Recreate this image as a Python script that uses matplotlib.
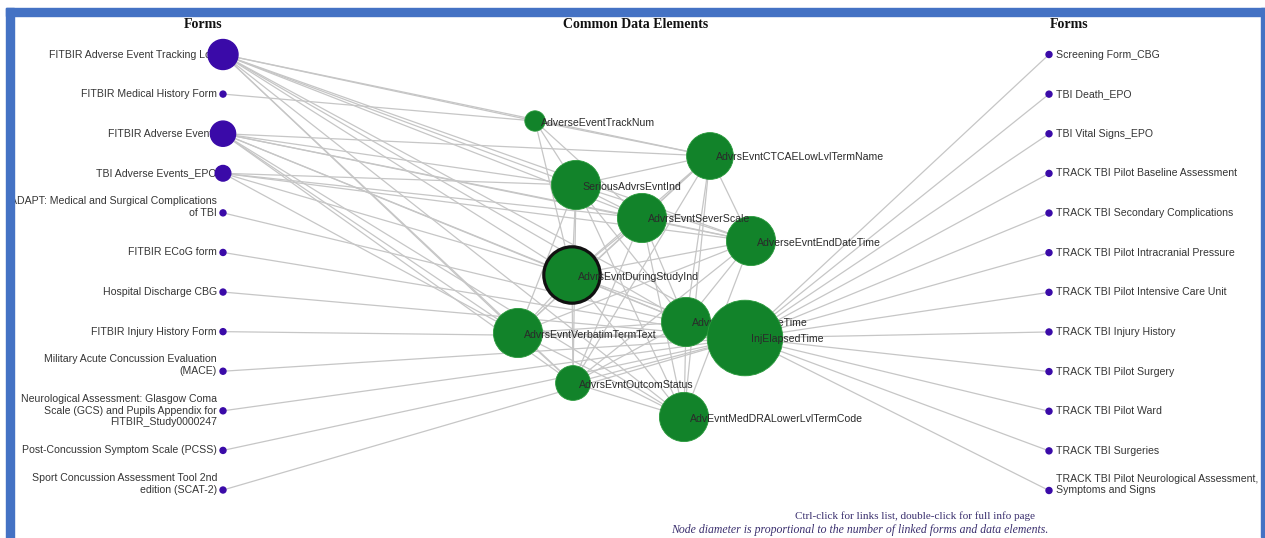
import numpy as np
import matplotlib
matplotlib.use('Agg')
from matplotlib import pyplot as plt
from matplotlib.patches import Circle, Rectangle

# forms on the left, with the number of links each one has
left_forms = [
    'FITBIR Adverse Event Tracking Log',
    'FITBIR Medical History Form',
    'FITBIR Adverse Events',
    'TBI Adverse Events_EPO',
    'ADAPT: Medical and Surgical Complications\nof TBI',
    'FITBIR ECoG form',
    'Hospital Discharge CBG',
    'FITBIR Injury History Form',
    'Military Acute Concussion Evaluation\n(MACE)',
    'Neurological Assessment: Glasgow Coma\nScale (GCS) and Pupils Appendix for\nFITBIR_Study0000247',
    'Post-Concussion Symptom Scale (PCSS)',
    'Sport Concussion Assessment Tool 2nd\nedition (SCAT-2)',
]
left_links = [11, 1, 9, 5, 1, 1, 1, 1, 1, 1, 1, 1]

right_forms = [
    'Screening Form_CBG',
    'TBI Death_EPO',
    'TBI Vital Signs_EPO',
    'TRACK TBI Pilot Baseline Assessment',
    'TRACK TBI Secondary Complications',
    'TRACK TBI Pilot Intracranial Pressure',
    'TRACK TBI Pilot Intensive Care Unit',
    'TRACK TBI Injury History',
    'TRACK TBI Pilot Surgery',
    'TRACK TBI Pilot Ward',
    'TRACK TBI Surgeries',
    'TRACK TBI Pilot Neurological Assessment,\nSymptoms and Signs',
]
right_links = [1] * 12

# common data elements (draw order) and their link counts
cde_names = [
    'AdverseEventTrackNum',
    'AdvrsEvntCTCAELowLvlTermName',
    'SeriousAdvrsEvntInd',
    'AdverseEvntEndDateTime',
    'AdvrsEvntSeverScale',
    'AdvrsEvntDuringStudyInd',
    'AdvrsEvntVerbatimTermText',
    'AdvrsEvntStartDateTime',
    'InjElapsedTime',
    'AdvrsEvntOutcomStatus',
    'AdvEvntMedDRALowerLvlTermCode',
]
cde_links = [7, 18, 19, 19, 19, 22, 19, 19, 30, 13, 19]
selected = 'AdvrsEvntDuringStudyInd'

# force layout positions of the data elements (pixels)
cde_layout = {
    'AdverseEventTrackNum': (535, 121),
    'AdvrsEvntCTCAELowLvlTermName': (710, 156),
    'SeriousAdvrsEvntInd': (576, 185),
    'AdvrsEvntSeverScale': (642, 218),
    'AdverseEvntEndDateTime': (751, 241),
    'AdvrsEvntDuringStudyInd': (572, 275),
    'AdvrsEvntVerbatimTermText': (518, 333),
    'AdvrsEvntStartDateTime': (686, 322),
    'InjElapsedTime': (745, 338),
    'AdvrsEvntOutcomStatus': (573, 383),
    'AdvEvntMedDRALowerLvlTermCode': (684, 417),
}

ae_all = ['AdverseEventTrackNum', 'AdvrsEvntCTCAELowLvlTermName', 'SeriousAdvrsEvntInd',
          'AdvrsEvntSeverScale', 'AdverseEvntEndDateTime', 'AdvrsEvntDuringStudyInd',
          'AdvrsEvntVerbatimTermText', 'AdvrsEvntStartDateTime', 'AdvrsEvntOutcomStatus',
          'AdvEvntMedDRALowerLvlTermCode', 'InjElapsedTime']
form_links = {
    'FITBIR Adverse Event Tracking Log': ae_all,
    'FITBIR Medical History Form': ['AdverseEventTrackNum'],
    'FITBIR Adverse Events': ae_all[1:10],
    'TBI Adverse Events_EPO': ['SeriousAdvrsEvntInd', 'AdvrsEvntSeverScale', 'AdvrsEvntDuringStudyInd',
                               'AdvrsEvntVerbatimTermText', 'AdverseEvntEndDateTime'],
}

cde_edges = [
    ('AdverseEventTrackNum', 'SeriousAdvrsEvntInd'), ('AdverseEventTrackNum', 'AdvrsEvntDuringStudyInd'),
    ('AdverseEventTrackNum', 'AdvrsEvntSeverScale'), ('AdverseEventTrackNum', 'AdvrsEvntCTCAELowLvlTermName'),
    ('AdvrsEvntCTCAELowLvlTermName', 'SeriousAdvrsEvntInd'), ('AdvrsEvntCTCAELowLvlTermName', 'AdvrsEvntSeverScale'),
    ('AdvrsEvntCTCAELowLvlTermName', 'AdverseEvntEndDateTime'), ('AdvrsEvntCTCAELowLvlTermName', 'AdvrsEvntDuringStudyInd'),
    ('AdvrsEvntCTCAELowLvlTermName', 'AdvrsEvntVerbatimTermText'), ('AdvrsEvntCTCAELowLvlTermName', 'AdvrsEvntStartDateTime'),
    ('AdvrsEvntCTCAELowLvlTermName', 'AdvrsEvntOutcomStatus'), ('AdvrsEvntCTCAELowLvlTermName', 'AdvEvntMedDRALowerLvlTermCode'),
    ('SeriousAdvrsEvntInd', 'AdvrsEvntSeverScale'), ('SeriousAdvrsEvntInd', 'AdverseEvntEndDateTime'),
    ('SeriousAdvrsEvntInd', 'AdvrsEvntDuringStudyInd'), ('SeriousAdvrsEvntInd', 'AdvrsEvntVerbatimTermText'),
    ('SeriousAdvrsEvntInd', 'AdvrsEvntStartDateTime'), ('SeriousAdvrsEvntInd', 'AdvrsEvntOutcomStatus'),
    ('SeriousAdvrsEvntInd', 'AdvEvntMedDRALowerLvlTermCode'),
    ('AdvrsEvntSeverScale', 'AdverseEvntEndDateTime'), ('AdvrsEvntSeverScale', 'AdvrsEvntDuringStudyInd'),
    ('AdvrsEvntSeverScale', 'AdvrsEvntVerbatimTermText'), ('AdvrsEvntSeverScale', 'AdvrsEvntStartDateTime'),
    ('AdvrsEvntSeverScale', 'AdvrsEvntOutcomStatus'), ('AdvrsEvntSeverScale', 'AdvEvntMedDRALowerLvlTermCode'),
    ('AdverseEvntEndDateTime', 'AdvrsEvntDuringStudyInd'), ('AdverseEvntEndDateTime', 'AdvrsEvntVerbatimTermText'),
    ('AdverseEvntEndDateTime', 'AdvrsEvntStartDateTime'), ('AdverseEvntEndDateTime', 'AdvrsEvntOutcomStatus'),
    ('AdverseEvntEndDateTime', 'AdvEvntMedDRALowerLvlTermCode'),
    ('AdvrsEvntDuringStudyInd', 'AdvrsEvntVerbatimTermText'), ('AdvrsEvntDuringStudyInd', 'AdvrsEvntStartDateTime'),
    ('AdvrsEvntDuringStudyInd', 'AdvrsEvntOutcomStatus'), ('AdvrsEvntDuringStudyInd', 'AdvEvntMedDRALowerLvlTermCode'),
    ('AdvrsEvntDuringStudyInd', 'InjElapsedTime'),
    ('AdvrsEvntVerbatimTermText', 'AdvrsEvntStartDateTime'), ('AdvrsEvntVerbatimTermText', 'AdvrsEvntOutcomStatus'),
    ('AdvrsEvntVerbatimTermText', 'AdvEvntMedDRALowerLvlTermCode'), ('AdvrsEvntVerbatimTermText', 'InjElapsedTime'),
    ('AdvrsEvntStartDateTime', 'AdvrsEvntOutcomStatus'), ('AdvrsEvntStartDateTime', 'AdvEvntMedDRALowerLvlTermCode'),
    ('AdvrsEvntStartDateTime', 'InjElapsedTime'),
    ('AdvrsEvntOutcomStatus', 'AdvEvntMedDRALowerLvlTermCode'), ('AdvrsEvntOutcomStatus', 'InjElapsedTime'),
]

W, H = 1265, 538
GREEN = '#12832a'
BLUE = '#3a0aa8'
EDGE = '#c6c6c6'
TXT = '#353535'
SANS = ['Liberation Sans', 'DejaVu Sans']
SERIF = ['Liberation Serif', 'DejaVu Serif']


def radius(n):
    return 3 + 1.2 * (n - 1)


fig = plt.figure(figsize=(W / 100, H / 100), dpi=100)
ax = fig.add_axes([0, 0, 1, 1])
ax.set_xlim(0, W)
ax.set_ylim(H, 0)
ax.axis('off')

# frame
for x, y, w, h in [(6, 8, W - 6, 8), (6, 8, 8, H - 8), (1261, 8, 4, H - 9)]:
    ax.add_patch(Rectangle((x, y), w, h, color='#4472c4', zorder=50))

left_x, right_x = 223, 1049
left_y = np.linspace(54.5, 490, len(left_forms))
right_y = np.linspace(54.5, 490.5, len(right_forms))
left_pos = dict(zip(left_forms, zip([left_x] * len(left_forms), left_y)))
right_pos = dict(zip(right_forms, zip([right_x] * len(right_forms), right_y)))

# edges
lines = []
for name in left_forms:
    targets = form_links.get(name, ['InjElapsedTime'])
    for t in targets:
        lines.append((left_pos[name], cde_layout[t]))
for name in right_forms:
    lines.append((right_pos[name], cde_layout['InjElapsedTime']))
for a, b in cde_edges:
    lines.append((cde_layout[a], cde_layout[b]))
for (x0, y0), (x1, y1) in lines:
    ax.plot([x0, x1], [y0, y1], color=EDGE, lw=0.9, zorder=1, solid_capstyle='butt')

LINE_H = 12.3


def block_center(y, label):
    n = label.count('\n') + 1
    anchor = min(1, n - 1)
    return y + ((n - 1) / 2 - anchor) * LINE_H


# left forms
for i, name in enumerate(left_forms):
    x, y = left_pos[name]
    ax.text(x - 6, block_center(y, name), name, ha='right', va='center', fontsize=7.6,
            family=SANS, color=TXT, zorder=3 + 2 * i, linespacing=1.2, multialignment='right')
    ax.add_patch(Circle((x, y), radius(left_links[i]), color=BLUE, zorder=4 + 2 * i))

# right forms
for i, name in enumerate(right_forms):
    x, y = right_pos[name]
    ax.add_patch(Circle((x, y), radius(right_links[i]), color=BLUE, zorder=3))
    ax.text(x + 7, block_center(y, name), name, ha='left', va='center', fontsize=7.6,
            family=SANS, color=TXT, zorder=4, linespacing=1.2)

# data elements
for i, name in enumerate(cde_names):
    x, y = cde_layout[name]
    r = radius(cde_links[i])
    z = 30 + 2 * i
    if name == selected:
        ax.add_patch(Circle((x, y), r, facecolor=GREEN, edgecolor='#111111', lw=2.3, zorder=z))
    else:
        ax.add_patch(Circle((x, y), r, facecolor=GREEN, edgecolor='#2a9a3c', lw=0.6, zorder=z))
    ax.text(x + 6, y + 1.5, name, ha='left', va='center', fontsize=7.6, family=SANS,
            color='#2a2a2a', zorder=z + 1)

# headers
for x, t in [(203, 'Forms'), (636, 'Common Data Elements'), (1069, 'Forms')]:
    ax.text(x, 25, t, ha='center', va='center', fontsize=10, fontweight='bold',
            family=SERIF, color='#111111')

ax.text(1035, 516, 'Ctrl-click for links list, double-click for full info page',
        ha='right', va='center', fontsize=8, family=SERIF, color='#3a2f6e')
ax.text(1048, 530, 'Node diameter is proportional to the number of linked forms and data elements.',
        ha='right', va='center', fontsize=8.5, family=SERIF, style='italic', color='#3a2f6e')

fig.savefig('out.png', dpi=100, facecolor='white')
